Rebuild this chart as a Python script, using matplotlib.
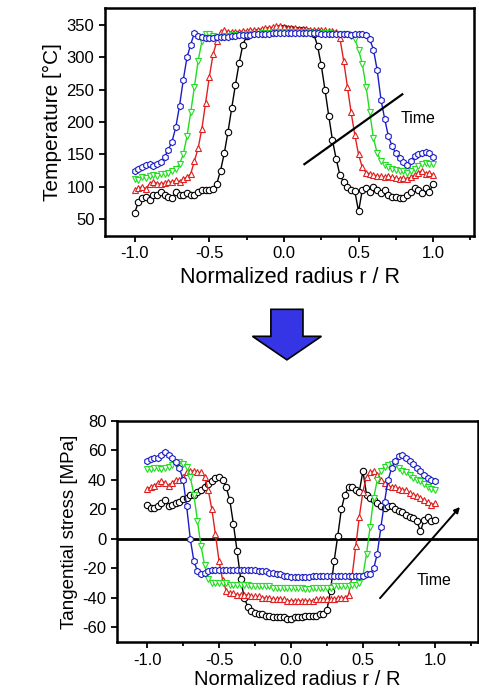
import matplotlib.pyplot as plt
from matplotlib.patches import FancyArrow

plt.rcParams['font.family'] = ['Liberation Sans', 'DejaVu Sans']
plt.rcParams['axes.unicode_minus'] = False

# radius grid
r = [-1.000, -0.975, -0.950, -0.925, -0.900, -0.875, -0.850, -0.825, -0.800, -0.775,
     -0.750, -0.725, -0.700, -0.675, -0.650, -0.625, -0.600, -0.575, -0.550, -0.525,
     -0.500, -0.475, -0.450, -0.425, -0.400, -0.375, -0.350, -0.325, -0.300, -0.275,
     -0.250, -0.225, -0.200, -0.175, -0.150, -0.125, -0.100, -0.075, -0.050, -0.025,
     0.000, 0.025, 0.050, 0.075, 0.100, 0.125, 0.150, 0.175, 0.200, 0.225,
     0.250, 0.275, 0.300, 0.325, 0.350, 0.375, 0.400, 0.425, 0.450, 0.475,
     0.500, 0.525, 0.550, 0.575, 0.600, 0.625, 0.650, 0.675, 0.700, 0.725,
     0.750, 0.775, 0.800, 0.825, 0.850, 0.875, 0.900, 0.925, 0.950, 0.975,
     1.000]

# temperature [°C]
t_black = [60, 77, 82, 84, 80, 87, 88, 92, 88, 85,
           82, 92, 88, 88, 90, 88, 88, 92, 95, 95,
           95, 96, 105, 125, 152, 185, 222, 258, 292, 320,
           333, 336, 338, 339, 340, 341, 342, 343, 344, 345,
           345, 344, 344, 343, 343, 342, 341, 340, 336, 318,
           288, 250, 210, 172, 143, 118, 108, 100, 95, 93,
           62, 95, 98, 92, 100, 95, 90, 95, 88, 85,
           85, 82, 82, 88, 92, 98, 95, 90, 98, 92,
           105]
t_red = [95, 98, 100, 97, 105, 108, 105, 104, 106, 108,
         107, 110, 108, 112, 115, 120, 140, 160, 190, 230,
         270, 305, 325, 340, 342, 340, 339, 340, 340, 341,
         341, 342, 342, 343, 344, 345, 346, 347, 348, 348,
         347, 346, 345, 345, 344, 344, 344, 343, 343, 343,
         342, 342, 341, 341, 340, 330, 295, 255, 215, 180,
         150, 130, 122, 120, 118, 117, 116, 115, 116, 115,
         113, 112, 114, 112, 115, 118, 122, 125, 120, 122,
         118]
t_green = [112, 110, 115, 113, 116, 118, 117, 120, 120, 122,
           124, 128, 135, 150, 178, 215, 255, 295, 325, 337,
           336, 333, 332, 332, 333, 333, 334, 334, 335, 335,
           336, 336, 337, 337, 338, 338, 338, 339, 339, 339,
           339, 339, 339, 339, 339, 339, 339, 338, 338, 338,
           338, 338, 338, 337, 337, 337, 337, 336, 333, 328,
           312, 290, 255, 215, 175, 152, 140, 134, 130, 128,
           126, 125, 124, 122, 125, 128, 132, 135, 137, 136,
           135]
t_blue = [125, 128, 130, 134, 135, 132, 136, 138, 146, 157,
          170, 192, 225, 265, 300, 320, 338, 333, 331, 330,
          330, 330, 331, 331, 332, 332, 333, 333, 334, 334,
          335, 335, 336, 336, 337, 337, 337, 338, 338, 338,
          338, 338, 338, 338, 338, 338, 338, 338, 338, 338,
          337, 337, 337, 337, 337, 336, 336, 336, 335, 336,
          337, 336, 334, 328, 312, 280, 235, 205, 178, 163,
          152, 145, 138, 134, 140, 147, 150, 152, 154, 152,
          146]

# tangential stress [MPa]
s_black = [23, 21, 21, 22, 24, 26, 22, 23, 24, 25,
           27, 28, 30, 30, 32, 33, 35, 37, 39, 41,
           42, 40, 35, 26, 10, -8, -27, -40, -46, -49,
           -50, -51, -51, -52, -52, -53, -53, -53, -53, -54,
           -54, -53, -53, -53, -52, -52, -52, -52, -51, -51,
           -48, -35, -15, 2, 20, 30, 35, 35, 33, 32,
           46, 30, 28, 26, 24, 22, 21, 22, 22, 20,
           19, 18, 16, 15, 14, 12, 5, 13, 15, 12,
           13]
s_red = [34, 35, 36, 38, 39, 38, 36, 38, 40, 40,
         42, 45, 46, 46, 45, 45, 42, 33, 20, 3,
         -15, -28, -35, -37, -37, -38, -38, -38, -38, -39,
         -39, -39, -40, -40, -40, -41, -41, -41, -41, -42,
         -42, -42, -42, -42, -42, -42, -42, -41, -41, -41,
         -41, -41, -41, -40, -40, -40, -38, -25, -5, 15,
         32, 42, 45, 46, 43, 40, 38, 36, 35, 35,
         34, 33, 33, 31, 30, 29, 28, 26, 25, 23,
         24]
s_green = [47, 47, 48, 48, 47, 48, 49, 50, 51, 52,
           51, 49, 42, 30, 12, -5, -18, -27, -30, -30,
           -30, -30, -30, -31, -31, -31, -31, -31, -31, -32,
           -32, -32, -32, -32, -32, -33, -33, -33, -33, -33,
           -33, -33, -33, -33, -34, -34, -33, -33, -33, -33,
           -33, -33, -32, -32, -32, -32, -32, -31, -31, -30,
           -25, -10, 8, 28, 40, 46, 49, 50, 51, 50,
           48, 46, 45, 43, 41, 40, 39, 37, 35, 34,
           33]
s_blue = [53, 54, 55, 55, 57, 59, 57, 55, 52, 48,
          40, 22, 0, -15, -22, -24, -23, -22, -21, -21,
          -21, -21, -21, -21, -21, -21, -21, -21, -21, -21,
          -21, -22, -22, -22, -23, -23, -24, -24, -25, -25,
          -26, -26, -26, -26, -26, -26, -25, -25, -25, -25,
          -25, -25, -25, -25, -25, -25, -25, -25, -25, -25,
          -25, -24, -24, -20, -10, 8, 25, 40, 48, 53,
          56, 57, 55, 53, 51, 48, 46, 43, 41, 40,
          39]

styles = [('black', 'o'), ('#e02020', '^'), ('#22dd22', 'v'), ('#1c1cc8', 'h')]


def style_axes(ax, xlabel_size, xlabel_pad):
    for sp in ax.spines.values():
        sp.set_linewidth(1.8)
    ax.set_xticks([-1.0, -0.5, 0.0, 0.5, 1.0])
    ax.set_xticks([-0.75, -0.25, 0.25, 0.75, 1.25], minor=True)
    ax.set_xticklabels(['-1.0', '-0.5', '0.0', '0.5', '1.0'])
    ax.tick_params(which='both', direction='out', width=1.3, labelsize=12)
    ax.tick_params(which='major', length=4)
    ax.tick_params(which='minor', length=3)
    ax.set_xlabel('Normalized radius r / R', fontsize=xlabel_size, labelpad=xlabel_pad)


fig = plt.figure(figsize=(4.79, 6.92), dpi=100)

# temperature
ax1 = fig.add_axes([0.219, 0.659, 0.771, 0.329])
for ys, (c, m) in zip([t_black, t_red, t_green, t_blue], styles):
    ax1.plot(r, ys, color=c, marker=m, ms=4.6, mfc='white', mec=c, mew=0.8, lw=1.0)
ax1.set_xlim(-1.2, 1.275)
ax1.set_ylim(24, 376)
ax1.set_yticks([50, 100, 150, 200, 250, 300, 350])
ax1.set_ylabel('Temperature [°C]', fontsize=15, labelpad=3)
style_axes(ax1, 15.5, 4)
ax1.plot([0.137, 0.793], [135, 243], color='black', lw=1.6)
ax1.text(0.78, 205, 'Time', fontsize=11.5, va='center', ha='left')

# stress
ax2 = fig.add_axes([0.244, 0.072, 0.754, 0.320])
ax2.axhline(0, color='black', lw=2)
for ys, (c, m) in zip([s_black, s_red, s_green, s_blue], styles):
    ax2.plot(r, ys, color=c, marker=m, ms=4.6, mfc='white', mec=c, mew=0.8, lw=1.0)
ax2.set_xlim(-1.21, 1.3)
ax2.set_ylim(-70, 80)
ax2.set_yticks([-60, -40, -20, 0, 20, 40, 60, 80])
ax2.set_ylabel('Tangential stress [MPa]', fontsize=13.5, labelpad=3)
style_axes(ax2, 14.5, 1.5)
ax2.annotate('', xy=(1.187, 23), xytext=(0.606, -41.6),
             arrowprops=dict(arrowstyle='-|>', color='black', lw=1.4, mutation_scale=8))
ax2.text(0.87, -28, 'Time', fontsize=11.5, va='center', ha='left')

# big arrow between panels
fig.add_artist(FancyArrow(0.599, 0.553, 0, -0.073, width=0.067, head_width=0.144,
                          head_length=0.034, length_includes_head=True,
                          transform=fig.transFigure, facecolor='#3535e6',
                          edgecolor='black', lw=1.2))

fig.savefig('out.png', dpi=100)
